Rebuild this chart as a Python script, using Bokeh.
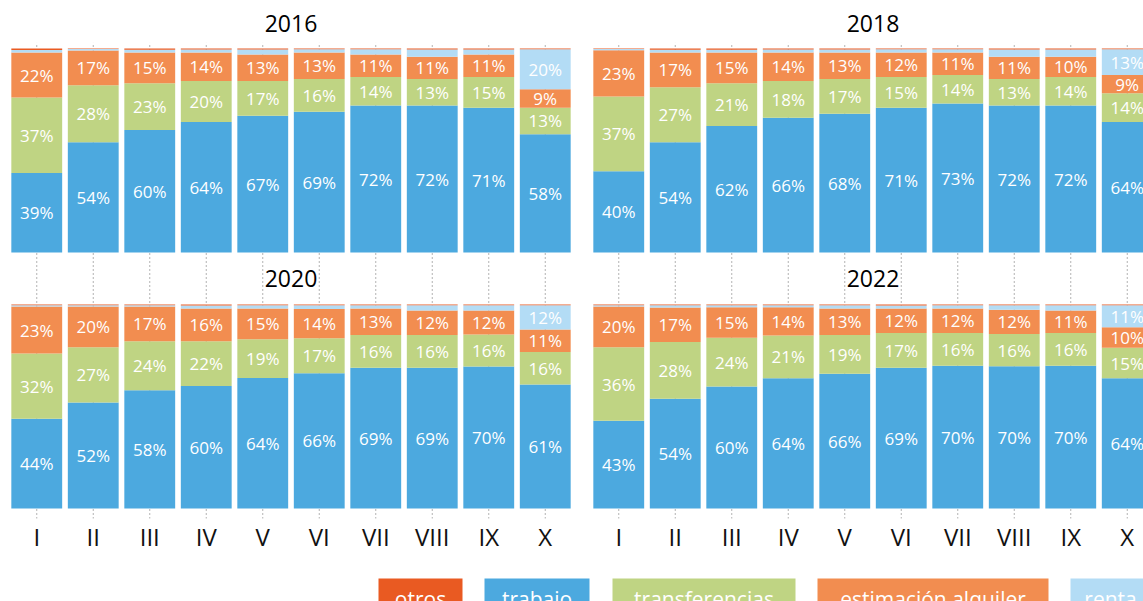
from bokeh.plotting import figure
from bokeh.layouts import column, row
from bokeh.models import ColumnDataSource, Range1d, FixedTicker
from bokeh.core.properties import value
from bokeh.embed import file_html
from bokeh.resources import INLINE

# ---------------- data ----------------
deciles = ["I", "II", "III", "IV", "V", "VI", "VII", "VIII", "IX", "X"]
series = ["trabajo", "transferencias", "estimación alquiler", "renta", "otros"]
legend_order = ["otros", "trabajo", "transferencias", "estimación alquiler", "renta"]

trabajo_2016 = [39, 54, 60, 64, 67, 69, 72, 72, 71, 58]
transferencias_2016 = [37, 28, 23, 20, 17, 16, 14, 13, 15, 13]
alquiler_2016 = [22, 17, 15, 14, 13, 13, 11, 11, 11, 9]
renta_2016 = [1.3, 0.7, 1.4, 1.5, 2.5, 1.6, 2.6, 3.5, 2.5, 19.6]
otros_2016 = [0.7, 0.3, 0.6, 0.5, 0.5, 0.4, 0.4, 0.5, 0.5, 0.4]

trabajo_2018 = [39.8, 54, 62, 66, 68, 71, 73, 72, 72, 64]
transferencias_2018 = [36.7, 27, 21, 18, 17, 15, 14, 13, 14, 14]
alquiler_2018 = [22.6, 17, 15, 14, 13, 12, 11, 11, 10, 9]
renta_2018 = [0.6, 1.4, 1.4, 1.5, 1.5, 1.6, 1.6, 3.5, 3.5, 12.6]
otros_2018 = [0.3, 0.6, 0.6, 0.5, 0.5, 0.4, 0.4, 0.5, 0.5, 0.4]

trabajo_2020 = [44, 52, 58, 60, 64, 66.3, 69, 69, 69.6, 60.8]
transferencias_2020 = [32, 27, 24, 22, 19, 17.2, 16, 16, 15.7, 15.9]
alquiler_2020 = [23, 20, 17, 16, 15, 14.3, 13, 12, 11.7, 11.0]
renta_2020 = [0.6, 0.6, 0.6, 1.5, 1.6, 1.8, 1.6, 2.6, 2.6, 11.9]
otros_2020 = [0.4, 0.4, 0.4, 0.5, 0.4, 0.4, 0.4, 0.4, 0.4, 0.4]

trabajo_2022 = [43, 53.8, 59.8, 63.8, 66, 69, 70, 69.7, 70, 63.8]
transferencias_2022 = [36, 27.8, 23.9, 21.0, 19, 17, 16, 15.8, 16, 15.0]
alquiler_2022 = [20, 16.9, 15.0, 13.8, 13, 12, 12, 11.9, 11, 10.0]
renta_2022 = [0.6, 1.1, 0.9, 1.0, 1.6, 1.5, 1.6, 2.2, 2.6, 10.8]
otros_2022 = [0.4, 0.4, 0.4, 0.4, 0.4, 0.5, 0.4, 0.4, 0.4, 0.4]

# ---------------- style / layout ----------------
COLORS = {
    "trabajo": "#4CA9DF",
    "transferencias": "#BFD483",
    "estimación alquiler": "#F28D50",
    "renta": "#B3DCF5",
    "otros": "#E95A22",
}
FONT = "Open Sans"
PX_PER_UNIT = 2.04          # vertical pixels per percentage point
TOP_OFFSET = 125.5          # vertical offset of the upper row of panels
Y_START = -4.9
FRAME_H = 510
PITCH = 56.5                # horizontal pixels per decile
BAR_W = 0.9
LABEL_MIN = 5
MARGIN = 8


def draw_panel(p, offset, trabajo, transf, alq, renta, otros):
    xs = list(range(1, len(deciles) + 1))
    vals = [trabajo, transf, alq, renta, otros]
    base = [0.0] * len(xs)
    lx, ly, lt = [], [], []
    for name, v in zip(series, vals):
        bottom = [offset + b for b in base]
        top = [offset + b + d for b, d in zip(base, v)]
        src = ColumnDataSource(dict(x=xs, bottom=bottom, top=top))
        p.vbar(x="x", bottom="bottom", top="top", width=BAR_W, source=src,
               fill_color=COLORS[name], line_color=None)
        for xi, b, t, d in zip(xs, bottom, top, v):
            if d >= LABEL_MIN:
                lx.append(xi)
                ly.append((b + t) / 2)
                lt.append(f"{round(d)}%")
        base = [b + d for b, d in zip(base, v)]
    p.text(x=lx, y=ly, text=lt, text_align="center", text_baseline="middle",
           text_color="white", text_font=value(FONT), text_font_size="17px")


def make_column(top_data, bottom_data, titles, frame_w, x_end, border_left, border_right):
    p = figure(frame_width=frame_w, frame_height=FRAME_H,
               x_range=Range1d(0.5, x_end), y_range=Range1d(Y_START, Y_START + FRAME_H / PX_PER_UNIT),
               output_backend="svg", toolbar_location=None, y_axis_location=None,
               min_border_left=border_left, min_border_right=border_right,
               min_border_top=MARGIN, min_border_bottom=0)
    p.outline_line_color = None
    p.grid.visible = False
    xs = list(range(1, len(deciles) + 1))
    # dotted connectors
    p.segment(x0=xs, x1=xs, y0=[Y_START] * len(xs),
              y1=[TOP_OFFSET + 100 + 6 / PX_PER_UNIT] * len(xs),
              line_color="#666666", line_width=1, line_dash="1 3")
    draw_panel(p, TOP_OFFSET, *top_data)
    draw_panel(p, 0, *bottom_data)
    # panel titles
    p.text(x=[5.5, 5.5], y=[TOP_OFFSET + 100 + 24.5 / PX_PER_UNIT, 100 + 26 / PX_PER_UNIT],
           text=titles, text_align="center", text_baseline="middle",
           text_color="#000000", text_font=value(FONT), text_font_size="23px")
    ax = p.xaxis[0]
    ax.ticker = FixedTicker(ticks=xs)
    ax.major_label_overrides = {i + 1: d for i, d in enumerate(deciles)}
    ax.axis_line_color = None
    ax.major_tick_line_color = None
    ax.minor_tick_line_color = None
    ax.major_tick_in = 0
    ax.major_tick_out = 0
    ax.major_label_standoff = 1
    ax.major_label_text_font = FONT
    ax.major_label_text_font_size = "24px"
    ax.major_label_text_color = "#111111"
    return p


left = make_column(
    (trabajo_2016, transferencias_2016, alquiler_2016, renta_2016, otros_2016),
    (trabajo_2020, transferencias_2020, alquiler_2020, renta_2020, otros_2020),
    ["2016", "2020"], 565, 10.5, MARGIN, 17)

right = make_column(
    (trabajo_2018, transferencias_2018, alquiler_2018, renta_2018, otros_2018),
    (trabajo_2022, transferencias_2022, alquiler_2022, renta_2022, otros_2022),
    ["2018", "2022"], 553, 0.5 + 553 / PITCH, 0, 0)

# ---------------- legend ----------------
LEG_H = 46
leg_left = [378, 484, 612, 817, 1070]
leg_width = [84, 105, 183, 231, 80]
leg = figure(width=1143, height=LEG_H, x_range=Range1d(0, 1143), y_range=Range1d(0, LEG_H),
             output_backend="svg", toolbar_location=None, x_axis_location=None, y_axis_location=None,
             min_border=0)
leg.outline_line_color = None
leg.grid.visible = False
leg_src = ColumnDataSource(dict(
    x=[l + w / 2 for l, w in zip(leg_left, leg_width)],
    w=leg_width,
    color=[COLORS[s] for s in legend_order],
    label=legend_order,
))
leg.rect(x="x", y=8, width="w", height=30, fill_color="color", line_color=None, source=leg_src)
leg.text(x="x", y=3, text="label", source=leg_src, text_align="center", text_baseline="alphabetic",
         text_color="white", text_font=value(FONT), text_font_size="21px")

layout = column(row(left, right, spacing=0), leg, spacing=0)
open("out.html", "w").write(file_html(layout, INLINE))
